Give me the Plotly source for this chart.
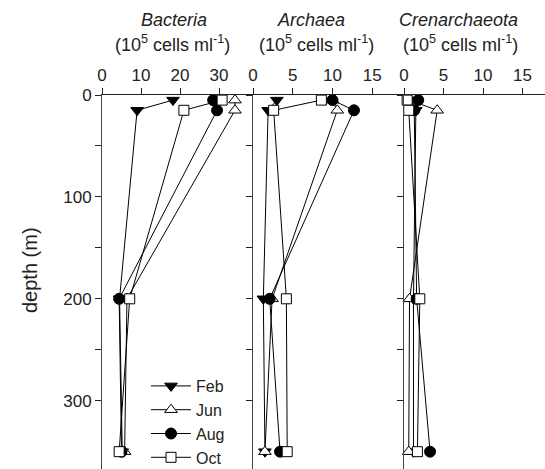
import plotly.graph_objects as go

depth = [5, 15, 200, 350]
months = ["Feb", "Jun", "Aug", "Oct"]

bacteria_feb = [18.2, 9.0, 4.5, 5.2]
bacteria_jun = [34.1, 34.1, 6.4, 5.8]
bacteria_aug = [28.5, 29.5, 4.4, 5.0]
bacteria_oct = [30.8, 21.0, 7.1, 4.4]

archaea_feb = [3.0, 1.9, 1.3, 1.5]
archaea_jun = [10.0, 10.6, 2.4, 1.5]
archaea_aug = [10.0, 12.7, 2.1, 3.4]
archaea_oct = [8.6, 2.6, 4.2, 4.3]

cren_feb = [0.9, 1.5, 1.2, 1.2]
cren_jun = [0.7, 4.2, 0.7, 0.6]
cren_aug = [1.8, 1.3, 1.6, 3.3]
cren_oct = [0.4, 0.6, 2.0, 1.7]

panel_titles = ["Bacteria", "Archaea", "Crenarchaeota"]
x1_ticks = [0, 10, 20, 30]
x23_ticks = [0, 5, 10, 15]
y_ticks = [0, 100, 200, 300]
y_minor_ticks = [50, 150, 250]

markers = {
    "Feb": dict(symbol="triangle-down", size=11, color="black", line=dict(color="black", width=1)),
    "Jun": dict(symbol="triangle-up", size=11, color="white", line=dict(color="black", width=1)),
    "Aug": dict(symbol="circle", size=11, color="black", line=dict(color="black", width=1)),
    "Oct": dict(symbol="square", size=10, color="white", line=dict(color="black", width=1)),
}

panels = [
    [bacteria_feb, bacteria_jun, bacteria_aug, bacteria_oct],
    [archaea_feb, archaea_jun, archaea_aug, archaea_oct],
    [cren_feb, cren_jun, cren_aug, cren_oct],
]

fig = go.Figure()
for p, series in enumerate(panels):
    xa = "x" if p == 0 else f"x{p+1}"
    ya = "y" if p == 0 else f"y{p+1}"
    for m, vals in zip(months, series):
        fig.add_trace(go.Scatter(
            x=vals, y=depth, mode="lines+markers", name=m,
            line=dict(color="black", width=1), marker=markers[m],
            xaxis=xa, yaxis=ya, showlegend=(p == 0), cliponaxis=False,
        ))

W, H = 545, 469
L, T = 102, 95
pw = W - L
ph = H - T
d1 = (253 - L) / pw
d2 = (404 - L) / pw
font = "Liberation Sans, Arial, sans-serif"
ink = "#222"


def px(xpix):
    return (xpix - L) / pw


def py(ypix):
    return (H - ypix) / ph


xcommon = dict(side="top", showline=True, linecolor=ink, linewidth=1, ticks="outside",
               ticklen=6, tickcolor=ink, showgrid=False, zeroline=False, automargin=False,
               tickfont=dict(family=font, size=17, color=ink))
ycommon = dict(range=[367, 0], showline=True, linecolor="#444", linewidth=1, ticks="outside",
               ticklen=6, tickcolor=ink, showgrid=False, zeroline=False, automargin=False,
               tickvals=y_ticks,
               minor=dict(tickvals=y_minor_ticks, ticks="outside", ticklen=6, tickcolor=ink,
                          showgrid=False))

fig.update_layout(
    width=W, height=H,
    margin=dict(l=L, r=0, t=T, b=0, autoexpand=False),
    paper_bgcolor="white", plot_bgcolor="white",
    font=dict(family=font, color=ink),
    xaxis=dict(domain=[0, d1], range=[0, (253 - L) / 3.9], tickvals=x1_ticks, anchor="y", **xcommon),
    xaxis2=dict(domain=[d1, d2], range=[0, 151 / 7.95], tickvals=x23_ticks, anchor="y2", **xcommon),
    xaxis3=dict(domain=[d2, 1], range=[0, (W - 404) / 7.9], tickvals=x23_ticks, anchor="y3", **xcommon),
    yaxis=dict(anchor="x", tickfont=dict(family=font, size=17, color=ink), **ycommon),
    yaxis2=dict(anchor="x2", matches="y", showticklabels=False, **ycommon),
    yaxis3=dict(anchor="x3", matches="y", showticklabels=False, **ycommon),
    legend=dict(x=px(146), y=py(369), xanchor="left", yanchor="top",
                bgcolor="rgba(0,0,0,0)", font=dict(family=font, size=16, color=ink),
                tracegroupgap=0, itemwidth=40),
    showlegend=True,
)

fig.add_annotation(x=px(30), y=py(270), xref="paper", yref="paper", text="depth (m)",
                   textangle=-90, showarrow=False, xanchor="center", yanchor="middle",
                   font=dict(family=font, size=20, color=ink))

title_centers = [174, 311, 458]
unit_centers = [172, 316, 460]
for c, u, t in zip(title_centers, unit_centers, panel_titles):
    fig.add_annotation(x=px(c), y=py(20), xref="paper", yref="paper",
                       text=f"<i>{t}</i>", showarrow=False, xanchor="center",
                       font=dict(family=font, size=18, color=ink), yanchor="middle")
    fig.add_annotation(x=px(u), y=py(43), xref="paper", yref="paper",
                       text="(10<sup>5</sup> cells ml<sup>-1</sup>)", showarrow=False,
                       xanchor="center",
                       font=dict(family=font, size=18, color=ink), yanchor="middle")

fig.write_html("out.html", config={"displayModeBar": False},
               post_script="document.body.style.margin='0';document.body.style.overflow='hidden';")
